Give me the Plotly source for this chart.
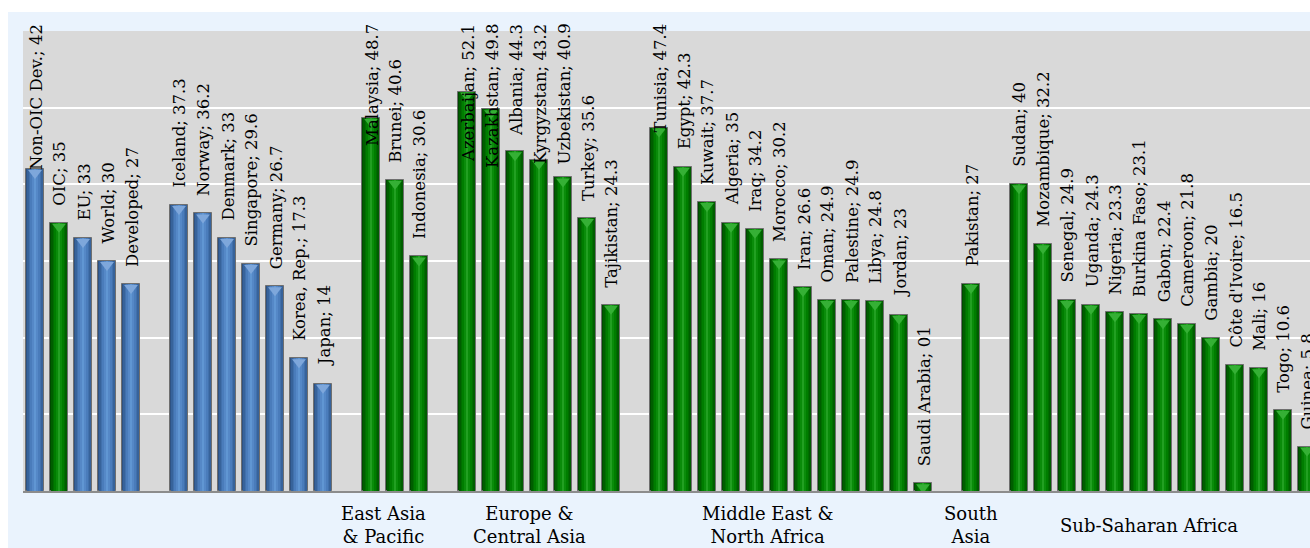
import plotly.graph_objects as go

# ---------------- data ----------------
benchmark_names = ["Non-OIC Dev.", "OIC", "EU", "World", "Developed"]
benchmark_values = [42, 35, 33, 30, 27]

developed_names = ["Iceland", "Norway", "Denmark", "Singapore", "Germany", "Korea, Rep.", "Japan"]
developed_values = [37.3, 36.2, 33, 29.6, 26.7, 17.3, 14]

eap_names = ["Malaysia", "Brunei", "Indonesia"]
eap_values = [48.7, 40.6, 30.6]

eca_names = ["Azerbaijan", "Kazakhstan", "Albania", "Kyrgyzstan", "Uzbekistan", "Turkey", "Tajikistan"]
eca_values = [52.1, 49.8, 44.3, 43.2, 40.9, 35.6, 24.3]

mena_names = ["Tunisia", "Egypt", "Kuwait", "Algeria", "Iraq", "Morocco", "Iran", "Oman",
              "Palestine", "Libya", "Jordan", "Saudi Arabia"]
mena_values = [47.4, 42.3, 37.7, 35, 34.2, 30.2, 26.6, 24.9, 24.9, 24.8, 23, 1]

sa_names = ["Pakistan"]
sa_values = [27]

ssa_names = ["Sudan", "Mozambique", "Senegal", "Uganda", "Nigeria", "Burkina Faso", "Gabon",
             "Cameroon", "Gambia", "Côte d'Ivoire", "Mali", "Togo", "Guinea"]
ssa_values = [40, 32.2, 24.9, 24.3, 23.3, 23.1, 22.4, 21.8, 20, 16.5, 16, 10.6, 5.8]

value_text_override = {"Saudi Arabia": "01"}
oic_blocks = {"OIC"}  # benchmark bar drawn in green

group_titles = ["", "", "East Asia<br>& Pacific", "Europe &<br>Central Asia",
                "Middle East &<br>North Africa", "South<br>Asia", "Sub-Saharan Africa"]
groups = [
    (benchmark_names, benchmark_values, "blue"),
    (developed_names, developed_values, "blue"),
    (eap_names, eap_values, "green"),
    (eca_names, eca_values, "green"),
    (mena_names, mena_values, "green"),
    (sa_names, sa_values, "green"),
    (ssa_names, ssa_values, "green"),
]
# horizontal centre of each group title, in bar slots
group_title_slot = [None, None, 14.5, 20.6, 30.5, 39, 46.4]

# ---------------- layout constants ----------------
W, H = 1310, 548
ML, MR, MT, MB = 23, 0, 31, 57
PW, PH = W - ML - MR, H - MT - MB
YMAX = 60
PX_PER_UNIT = PH / YMAX
SLOT_PX = 24.0
FONT = "DejaVu Serif"

# build slots (one empty slot between groups)
xs, ys, names, colors = [], [], [], []
slot = 0
for gi, (nm, vals, col) in enumerate(groups):
    if gi > 0:
        slot += 1
    for n, v in zip(nm, vals):
        xs.append(slot)
        ys.append(v)
        names.append(n)
        colors.append("green" if (col == "green" or n in oic_blocks) else col)
        slot += 1

layers = {
    "blue": [(0.77, "#2E5283"), (0.66, "#37639B"), (0.54, "#4170AC"),
             (0.40, "#4A7CBB"), (0.24, "#5588C7"), (0.10, "#6096D3")],
    "green": [(0.77, "#004A00"), (0.66, "#005E00"), (0.54, "#006E00"),
              (0.40, "#007D00"), (0.24, "#0A8C0A"), (0.10, "#22A022")],
}
cap_color = {"blue": "#7EA7DB", "green": "#35B035"}
CAP_SIZE = 12

fig = go.Figure()
for col in ["blue", "green"]:
    cx = [x for x, c in zip(xs, colors) if c == col]
    cy = [y for y, c in zip(ys, colors) if c == col]
    for i, (w, fc) in enumerate(layers[col]):
        fig.add_trace(go.Bar(
            x=cx, y=cy, width=w,
            marker=dict(color=fc,
                        line=dict(color="#6F6F6F" if i == 0 else fc, width=1 if i == 0 else 0)),
            showlegend=False, hoverinfo="skip",
        ))
    # light triangular top cap of each cylinder
    fig.add_trace(go.Scatter(
        x=cx, y=[v - (CAP_SIZE / 4 + 1) / PX_PER_UNIT for v in cy], mode="markers",
        marker=dict(symbol="triangle-down", size=CAP_SIZE, color=cap_color[col], line=dict(width=0)),
        showlegend=False, hoverinfo="skip", cliponaxis=True,
    ))

# data labels (vertical), kept inside the chart area at the top
annotations = []
CHAR_PX = 9.0
GAP_PX = 17
TOP_PX = 22
LABEL_SIZE = 16.5
for x, y, n in zip(xs, ys, names):
    vt = value_text_override.get(n, f"{y:g}")
    txt = f"{n}; {vt}"
    bar_top_px = MT + PH - y * PX_PER_UNIT
    est_top = bar_top_px - GAP_PX - len(txt) * CHAR_PX
    if est_top < TOP_PX:
        annotations.append(dict(x=x, y=(MT + PH - TOP_PX) / PH, xref="x", yref="paper",
                                text=txt, textangle=-90, showarrow=False, xshift=1,
                                xanchor="center", yanchor="top",
                                font=dict(family=FONT, size=LABEL_SIZE, color="black")))
    else:
        annotations.append(dict(x=x, y=y, xref="x", yref="y", text=txt, textangle=-90,
                                showarrow=False, xanchor="center", yanchor="bottom",
                                yshift=GAP_PX - 2, xshift=1,
                                font=dict(family=FONT, size=LABEL_SIZE, color="black")))

for t, s in zip(group_titles, group_title_slot):
    if t:
        annotations.append(dict(x=s, y=(MT + PH - 525) / PH, xref="x", yref="paper", text=t,
                                showarrow=False, xanchor="center", yanchor="middle",
                                font=dict(family=FONT, size=18, color="black")))

shapes = [
    dict(type="rect", xref="paper", yref="paper", layer="below",
         x0=(8 - ML) / PW, x1=1.01, y0=(MT + PH - H) / PH - 0.01, y1=(MT + PH - 12) / PH,
         fillcolor="#EAF3FD", line=dict(width=0)),
    dict(type="rect", xref="paper", yref="paper", layer="below",
         x0=0, x1=1, y0=0, y1=1, fillcolor="#D9D9D9", line=dict(width=0)),
]

fig.update_layout(
    width=W, height=H,
    margin=dict(l=ML, r=MR, t=MT, b=MB, pad=0),
    paper_bgcolor="white", plot_bgcolor="#D9D9D9",
    barmode="overlay", bargap=0,
    showlegend=False,
    annotations=annotations, shapes=shapes,
    xaxis=dict(range=[-0.5, -0.5 + PW / SLOT_PX], showgrid=False, zeroline=False,
               showticklabels=False, ticks="", showline=True, linecolor="#8C8C8C", linewidth=2,
               fixedrange=True),
    yaxis=dict(range=[0, YMAX], dtick=10, showgrid=True, gridcolor="white", gridwidth=2,
               zeroline=False, showticklabels=False, ticks="", showline=False, fixedrange=True),
    font=dict(family=FONT),
)

fig.write_html("out.html", config={"displayModeBar": False},
               post_script="document.body.style.margin='0';document.body.style.overflow='hidden';")
